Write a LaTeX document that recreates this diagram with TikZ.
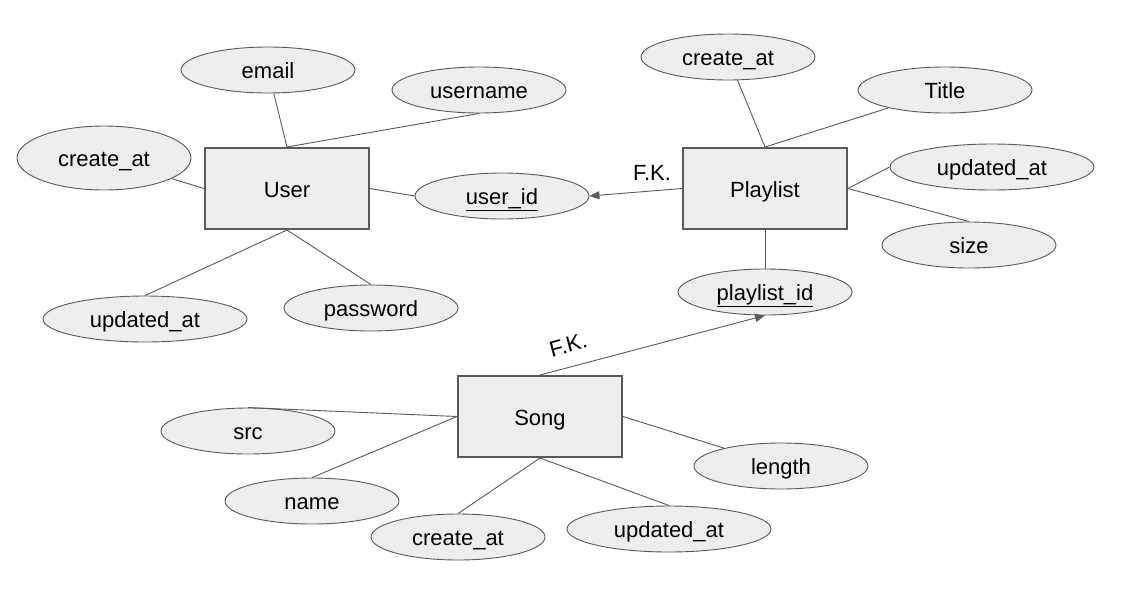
\documentclass[tikz,border=0pt]{standalone}
\usepackage{fontspec}
\setmainfont{Liberation Sans}
\usetikzlibrary{shapes.geometric,arrows.meta}
\definecolor{fillg}{HTML}{EEEEEE}
\definecolor{edgec}{HTML}{5A5A5A}
\begin{document}
\begin{tikzpicture}[x=1pt,y=-1pt,
  txt/.style={font=\fontsize{22}{26}\selectfont, text=black, text height=17pt, text depth=0pt},
  attr/.style={txt,ellipse,draw=edgec,fill=fillg,line width=0.9pt,minimum width=174pt,minimum height=46pt,inner sep=0pt},
  wide/.style={attr,minimum width=204pt},
  ent/.style={txt,rectangle,draw=edgec,fill=fillg,line width=2pt,minimum width=164pt,minimum height=81pt},
  conn/.style={draw=edgec,line width=0.9pt},
  fkarrow/.style={conn,-{Triangle[length=10pt,width=8pt]}}]
\useasboundingbox (0,0) rectangle (1123,614);

% entities
\node[ent] (user) at (287,188.5) {User};
\node[ent] (pl) at (765,188.5) {Playlist};
\node[ent] (song) at (540,416.5) {Song};

% user attributes
\node[attr] (email) at (268,70) {email};
\node[attr] (uname) at (479,90) {username};
\node[attr,minimum height=64pt] (ucr) at (104,158) {create\_at};
\node[attr] (uid) at (502,196) {\underline{user\_id}};
\node[wide] (uupd) at (145,319) {updated\_at};
\node[attr] (pw) at (371,308) {password};

% playlist attributes
\node[attr] (pcr) at (728,57) {create\_at};
\node[attr] (title) at (945,90) {Title};
\node[wide] (pupd) at (992,167) {updated\_at};
\node[attr] (size) at (969,245) {size};
\node[attr] (plid) at (765,292) {\underline{playlist\_id}};

% song attributes
\node[attr] (src) at (248,431) {src};
\node[attr] (name) at (312,501) {name};
\node[attr] (scr) at (458,537) {create\_at};
\node[wide] (supd) at (669,529) {updated\_at};
\node[attr] (len) at (781,466) {length};

% connectors: user
\draw[conn] (user.north) -- (email);
\draw[conn] (user.north) -- (uname.south);
\draw[conn] (user.west) -- (ucr);
\draw[conn] (user.east) -- (uid.west);
\draw[conn] (user.south) -- (uupd.north);
\draw[conn] (user.south) -- (pw.north);

% connectors: playlist
\draw[conn] (pl.north) -- (pcr);
\draw[conn] (pl.north) -- (title);
\draw[conn] (pl.east) -- (pupd.west);
\draw[conn] (pl.east) -- (size.north);
\draw[conn] (pl.south) -- (plid.north);
\draw[fkarrow] (pl.west) -- (uid.east);

% connectors: song
\draw[fkarrow] (song.north) -- (plid.south);
\draw[conn] (song.west) -- (src.north);
\draw[conn] (song.west) -- (name.north);
\draw[conn] (song.east) -- (len);
\draw[conn] (song.south) -- (scr.north);
\draw[conn] (song.south) -- (supd.north);

% labels
\node[txt] (fk1) at (652,172) {F.K.};
\node[txt,rotate=15] (fk2) at (568,344) {F.K.};
\end{tikzpicture}
\end{document}
